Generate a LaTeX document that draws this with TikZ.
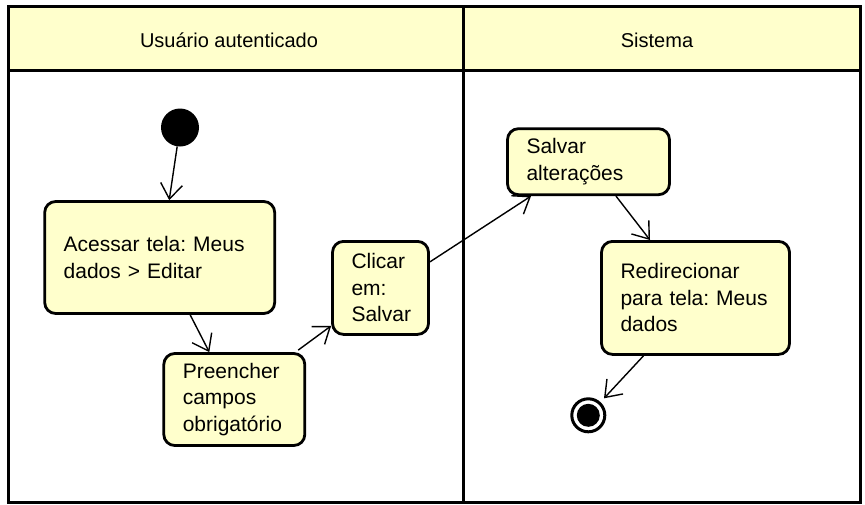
\documentclass[tikz,border=0pt]{standalone}
\usepackage{fontspec}
\setmainfont{Liberation Sans}
\usetikzlibrary{arrows.meta,calc}
\definecolor{actfill}{HTML}{FFFFCC}
\begin{document}
\begin{tikzpicture}[x=1pt,y=-1pt,
  lane/.style={draw=black,line width=3pt},
  action/.style={draw=black,line width=2.8pt,fill=actfill,rounded corners=11pt,
    align=left,inner xsep=19pt,inner ysep=0pt,
    font=\fontsize{21}{26.5}\selectfont\frenchspacing},
  flow/.style={draw=black,line width=1.4pt,
    -{Straight Barb[length=15pt,width=22pt]}},
  lanetitle/.style={font=\fontsize{20}{24}\selectfont,anchor=base,inner sep=0pt}]
\useasboundingbox (0,0) rectangle (865,504);

% swimlanes
\fill[actfill] (8,6.5) rectangle (860,70);
\draw[lane] (8,6.5) rectangle (860,502);
\draw[lane] (8,70) -- (860,70);
\draw[lane] (463,6.5) -- (463,502);
\node[lanetitle] (laneA) at (229,47.7) {Usuário autenticado};
\node[lanetitle] (laneB) at (657,47.7) {Sistema};

% initial and final nodes
\node[circle,fill=black,minimum size=38pt,inner sep=0pt] (start) at (180,127.5) {};
\node[circle,draw=black,line width=3pt,fill=white,minimum size=33pt,inner sep=0pt] (endn) at (588.3,415.3) {};
\node[circle,fill=black,minimum size=23pt,inner sep=0pt] (endcore) at (endn) {};

% actions
\node[action,text width=192pt,minimum height=112pt] (acessar) at (159.7,257.5)
  {Acessar tela: Meus\\dados > Editar};
\node[action,text width=103pt,minimum height=92pt] (preencher) at (234.3,399.5)
  {Preencher\\campos\\obrigatório};
\node[action,text width=58pt,minimum height=93pt] (clicar) at (380.5,287.9)
  {Clicar\\em:\\Salvar};
\node[action,text width=124pt,minimum height=66pt] (salvar) at (588.5,161.7)
  {Salvar\\alterações};
\node[action,text width=150pt,minimum height=113pt] (redir) at (695.5,297.9)
  {Redirecionar\\para tela: Meus\\dados};

% control flows
\draw[flow] (start) -- ($(acessar.north)+(9.5,0)$);
\draw[flow] ($(acessar.south)+(30.5,0)$) -- ($(preencher.north)+(-25,0)$);
\draw[flow] ($(preencher.north east)+(-8,-2)$) -- ($(clicar.west)+(0,38)$);
\draw[flow] ($(clicar.east)+(0,-26)$) -- ($(salvar.south)+(-57.5,0)$);
\draw[flow] ($(salvar.south)+(27.5,0)$) -- ($(redir.north)+(-45.5,0)$);
\draw[flow] ($(redir.south)+(-52,0)$) -- ($(endn)+(15.7,-17)$);
\end{tikzpicture}
\end{document}
